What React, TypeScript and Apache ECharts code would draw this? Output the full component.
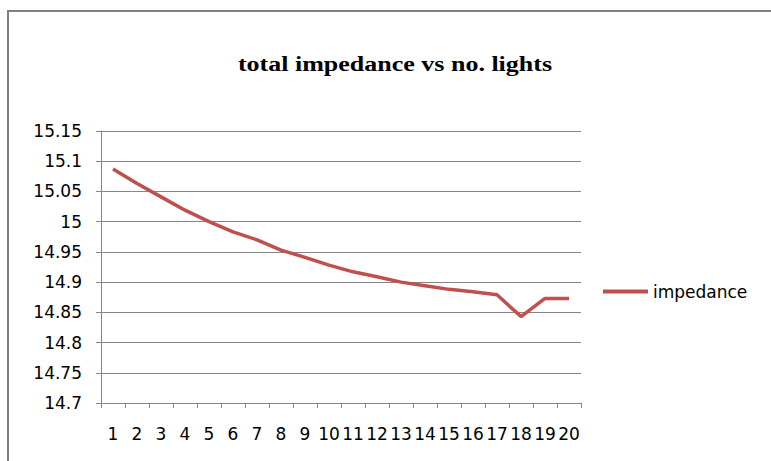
import React, { useEffect, useRef } from "react";
import * as echarts from "echarts";

const titleText = "total impedance vs no. lights";
const seriesName = "impedance";
const categories = ["1","2","3","4","5","6","7","8","9","10","11","12","13","14","15","16","17","18","19","20"];
const impedance = [15.087, 15.063, 15.041, 15.019, 15.0, 14.983, 14.970, 14.953, 14.941, 14.928, 14.917, 14.909, 14.900, 14.894, 14.888, 14.884, 14.879, 14.843, 14.873, 14.873];
const yMin = 14.7;
const yMax = 15.15;
const yStep = 0.05;

export default function App() {
  const ref = useRef<HTMLDivElement>(null);
  useEffect(() => {
    if (!ref.current) return;
    const chart = echarts.init(ref.current, null, { renderer: "svg" });
    const font = "DejaVu Sans";
    chart.setOption({
      animation: false,
      backgroundColor: "#ffffff",
      graphic: [
        {
          type: "rect",
          shape: { x: 8, y: 11, width: 820, height: 520 },
          style: { fill: "none", stroke: "#7f7f7f", lineWidth: 2 },
          silent: true,
        },
        {
          type: "text",
          x: 395,
          y: 64,
          scaleX: 1.3,
          style: {
            text: titleText,
            fontFamily: "Liberation Serif",
            fontWeight: "bold",
            fontSize: 20,
            fill: "#000000",
            textAlign: "center",
            textVerticalAlign: "middle",
          },
        },
      ],
      legend: {
        left: 603,
        top: 283,
        padding: 0,
        icon: "rect",
        itemWidth: 45,
        itemHeight: 4,
        data: [seriesName],
        textStyle: { fontFamily: font, fontSize: 17, color: "#000000" },
      },
      grid: { left: 101, right: 190, top: 131, bottom: 58 },
      xAxis: {
        type: "category",
        data: categories,
        boundaryGap: true,
        axisLine: { lineStyle: { color: "#868686", width: 1 } },
        axisTick: { show: true, length: 5, alignWithLabel: false, interval: 0, lineStyle: { color: "#868686" } },
        axisLabel: { interval: 0, margin: 22, fontFamily: font, fontSize: 17, color: "#000000" },
        splitLine: { show: false },
      },
      yAxis: {
        type: "value",
        min: yMin,
        max: yMax,
        interval: yStep,
        axisLine: { show: true, lineStyle: { color: "#868686", width: 1 } },
        axisTick: { show: true, length: 5, lineStyle: { color: "#868686" } },
        axisLabel: {
          margin: 19,
          fontFamily: font,
          fontSize: 17,
          color: "#000000",
          formatter: (v: number) => String(+v.toFixed(2)),
        },
        splitLine: { show: true, lineStyle: { color: "#868686", width: 1 } },
      },
      series: [
        {
          name: seriesName,
          type: "line",
          data: impedance,
          color: "#C0504D",
          symbol: "none",
          lineStyle: { color: "#C0504D", width: 3.5 },
        },
      ],
    });
    return () => chart.dispose();
  }, []);
  return (
    <div
      ref={ref}
      style={{ position: "fixed", left: 0, top: 0, width: 771, height: 461 }}
    />
  );
}
